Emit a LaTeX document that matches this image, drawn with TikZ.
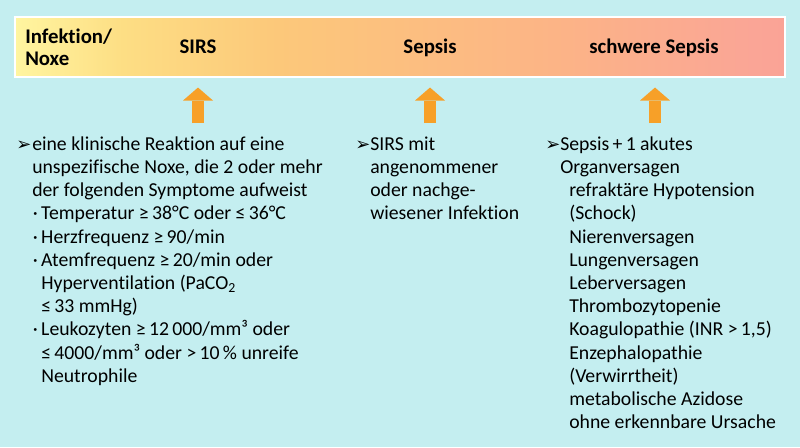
\documentclass[tikz,border=0pt]{standalone}
\usepackage{fontspec}
\setmainfont[Ligatures=NoCommon]{Carlito}
\newfontfamily\arrfont{DejaVu Sans}
\usetikzlibrary{arrows.meta}
\definecolor{bgcyan}{RGB}{196,238,240}
\definecolor{arrorange}{RGB}{247,160,40}
\definecolor{barA}{RGB}{255,245,160}
\definecolor{barB}{RGB}{253,222,132}
\definecolor{barC}{RGB}{252,200,122}
\definecolor{barD}{RGB}{252,180,134}
\definecolor{barE}{RGB}{250,165,150}
\definecolor{barF}{RGB}{248,138,146}
\pgfdeclarehorizontalshading{barshade}{100bp}{color(0bp)=(barA); color(25bp)=(barA); color(32bp)=(barB); color(42bp)=(barC); color(60bp)=(barD); color(73bp)=(barE); color(100bp)=(barF)}
\newcommand\subit{\hspace*{6.75pt}\llap{\textperiodcentered\hspace{2.5pt}}}
\newcommand\subc{\hspace*{6.75pt}}

\begin{document}
\begin{tikzpicture}[x=0.75pt,y=-0.75pt,
  hdr/.style={font=\bfseries\fontsize{15.6}{16.5}\selectfont, inner sep=0pt},
  txt/.style={font=\fontsize{14.8}{17.4}\selectfont, align=left, anchor=north west, inner sep=0pt},
  bul/.style={font=\arrfont\fontsize{13.5}{14}\selectfont, anchor=base west, inner sep=0pt},
  uparr/.style={draw=arrorange, line width=9pt, -{Triangle[width=22.5pt,length=9.75pt,line width=0pt]}, shorten >=7.5pt}]
\useasboundingbox (0,0) rectangle (800,447);
\fill[bgcyan] (0,0) rectangle (800,447);
\node[shading=barshade, draw=white, line width=0.8pt, minimum width=577.5pt, minimum height=45pt, inner sep=0pt] (bar) at (400,47) {};
\node[hdr, align=left, anchor=north west] (inf) at (25,27.6) {\strut Infektion/\\Noxe};
\node[hdr, anchor=base] (sirs) at (198,53) {SIRS};
\node[hdr, anchor=base] (sep) at (430,53) {Sepsis};
\node[hdr, anchor=base] (ssep) at (654,53) {schwere Sepsis};

\coordinate (a1) at (198,123);
\coordinate (a2) at (430,123);
\coordinate (a3) at (655,123);
\draw[uparr] (a1) -- (a1 |- bar.south);
\draw[uparr] (a2) -- (a2 |- bar.south);
\draw[uparr] (a3) -- (a3 |- bar.south);

\node[bul] (b1) at (16,150) {➢};
\node[bul] (b2) at (355,150) {➢};
\node[bul] (b3) at (545,150) {➢};

\node[txt] (t1) at (32,133.8) {\strut eine klinische Reaktion auf eine\\
unspezifische Noxe, die 2 oder mehr\\
der folgenden Symptome aufweist\\
\subit Temperatur ≥\,38°C oder ≤\,36°C\\
\subit Herzfrequenz ≥\,90/min\\
\subit Atemfrequenz ≥\,20/min oder\\
\subc Hyperventilation (PaCO\textsubscript{2}\\
\subc ≤\,33 mmHg)\\
\subit Leukozyten ≥\,12\,000/mm³ oder\\
\subc ≤\,4000/mm³ oder >\,10\,\% unreife\\
\subc Neutrophile};

\node[txt] (t2) at (370,133.8) {\strut SIRS mit\\
angenommener\\
oder nachge-\\
wiesener Infektion};

\node[txt] (t3) at (560,133.8) {\strut Sepsis\,+\,1 akutes\\
Organversagen\\
\subc refraktäre Hypotension\\
\subc (Schock)\\
\subc Nierenversagen\\
\subc Lungenversagen\\
\subc Leberversagen\\
\subc Thrombozytopenie\\
\subc Koagulopathie (INR >\,1,5)\\
\subc Enzephalopathie\\
\subc (Verwirrtheit)\\
\subc metabolische Azidose\\
\subc ohne erkennbare Ursache};
\end{tikzpicture}
\end{document}
